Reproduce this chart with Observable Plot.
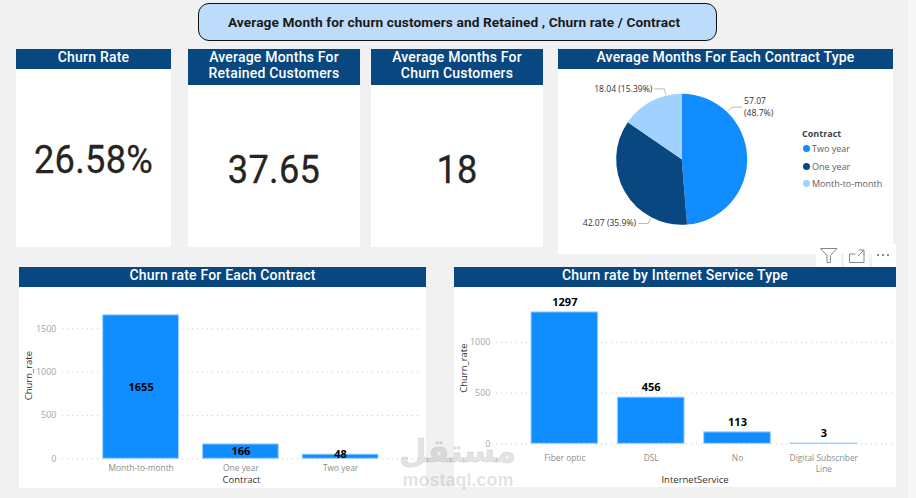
<!DOCTYPE html>
<html><head><meta charset="utf-8">
<script src="https://cdn.jsdelivr.net/npm/d3@7"></script>
<script src="https://cdn.jsdelivr.net/npm/@observablehq/plot@0.6"></script>
<style>
html,body{margin:0;padding:0;background:#f1f1f1;width:916px;height:498px;overflow:hidden;font-family:Roboto,sans-serif}
.card{position:absolute;background:#fff}
.hdr{position:absolute;left:0;right:0;top:0;background:#094780;color:#fff;text-align:center;font:500 14px/16px Roboto,sans-serif;letter-spacing:.2px}
.kpi{position:absolute;left:0;right:0;text-align:center;color:#252423;font:400 38.5px/40px Roboto,sans-serif;letter-spacing:.3px;transform:scaleX(.94);-webkit-text-stroke:.3px #252423}
svg text{font-family:"Open Sans",sans-serif}
</style></head><body>
<div id="root"></div>
<script>
const pageTitle = "Average Month for churn customers and Retained , Churn rate / Contract";
const kpiTitles = [["Churn Rate"],["Average Months For","Retained Customers"],["Average Months For","Churn Customers"]];
const kpiValues = ["26.58%","37.65","18"];
const pieTitle = "Average Months For Each Contract Type";
const contractTypes = ["Two year","One year","Month-to-month"];
const avgMonths = [57.07,42.07,18.04];
const avgShares = ["48.7%","35.9%","15.39%"];
const pieColors = ["#118DFF","#094780","#A0D1FF"];
const contractNames = ["Month-to-month","One year","Two year"];
const contractChurn = [1655,166,48];
const serviceNames = ["Fiber optic","DSL","No","Digital Subscriber Line"];
const serviceChurn = [1297,456,113,3];

const root = document.getElementById("root");
function el(tag, cls, css, text, parent=root){const e=document.createElement(tag); if(cls)e.className=cls; if(css)e.style.cssText=css; if(text!=null)e.textContent=text; parent.appendChild(e); return e;}
function card(x,y,w,h,hh,lines){
  const c=el("div","card",`left:${x}px;top:${y}px;width:${w}px;height:${h}px`);
  const t=el("div","hdr",`height:${hh}px;box-sizing:border-box`,null,c);
  lines.forEach(l=>el("div",null,"",l,t));
  return c;
}
// lighter strip at the right edge of the screenshot
el("div",null,"position:absolute;left:908px;top:0;width:8px;height:498px;background:#f7f7f7");
// banner
el("div",null,"position:absolute;left:198px;top:3px;width:510px;padding-right:7px;height:36px;background:#BDDCFB;border:1.5px solid #111;border-radius:11px;text-align:center;color:#1a1a1a;font:700 13.7px/36px Roboto,sans-serif;letter-spacing:.1px",pageTitle);

// KPI cards
const kpiBoxes=[[16,155,20,91],[188,172,36,101],[371,172,36,101]];
kpiBoxes.forEach((b,i)=>{const c=card(b[0],49,b[1],198,b[2],kpiTitles[i]); el("div","kpi",`top:${b[3]}px`,kpiValues[i],c);});

// Pie card
const pc=card(558,49,335,205,20,[pieTitle]);
const pieData=contractTypes.map((c,i)=>({contract:c,months:avgMonths[i],share:avgShares[i]}));
const colorOpt={domain:contractTypes,range:pieColors};
// label placement relative to the slice: leader angle (deg clockwise from top) and text side
const labelSpots={"Two year":{ang:44,side:1,two:true},"One year":{ang:207.6,side:-1},"Month-to-month":{ang:-13.8,side:-1}};
const pie=Plot.plot({width:335,height:185,margin:0,x:{axis:null},y:{axis:null},color:colorOpt,
 style:{background:"transparent",overflow:"visible"},
 marks:[Plot.dot(pieData,{x:()=>0,y:()=>0,fill:"contract",r:"months",
  render(index,scales,values,dims){
    const NS="http://www.w3.org/2000/svg", g=document.createElementNS(NS,"g");
    const cx=123.7,cy=90.3,R=65.5;
    const arcs=d3.pie().sort(null).value(d=>d.months)(pieData);
    const arc=d3.arc().innerRadius(0).outerRadius(R);
    arcs.forEach((a,i)=>{
      const p=document.createElementNS(NS,"path");
      p.setAttribute("d",arc(a));p.setAttribute("fill",scales.color(a.data.contract));
      p.setAttribute("transform",`translate(${cx},${cy})`);g.appendChild(p);
      const s=labelSpots[a.data.contract],th=s.ang*Math.PI/180;
      const ex=cx+Math.sin(th)*(R+1),ey=cy-Math.cos(th)*(R+1);
      const ox=cx+Math.sin(th)*(R+7),oy=cy-Math.cos(th)*(R+7);
      const lx=ox+s.side*10;
      const l=document.createElementNS(NS,"path");
      l.setAttribute("d",`M${ex},${ey}L${ox},${oy}L${lx},${oy}`);l.setAttribute("fill","none");l.setAttribute("stroke","#bbb");g.appendChild(l);
      const lines=s.two?[String(a.data.months),`(${a.data.share})`]:[`${a.data.months} (${a.data.share})`];
      lines.forEach((t,k)=>{const tx=document.createElementNS(NS,"text");tx.textContent=t;
        tx.setAttribute("x",lx+s.side*2);tx.setAttribute("y",oy+(s.two?k*12-6:0));tx.setAttribute("dy","0.32em");
        tx.setAttribute("text-anchor",s.side>0?"start":"end");tx.setAttribute("font-size","8.6");tx.setAttribute("fill","#333");g.appendChild(tx);});
    });
    return g;
  }})]});
pie.style.position="absolute";pie.style.left="0";pie.style.top="20px";pc.appendChild(pie);
// pie legend
const lg=el("div",null,"position:absolute;left:244px;top:79px;font:9px/12px 'Open Sans',sans-serif;color:#605e5c",null,pc);
el("div",null,"position:absolute;left:0;top:0;font-weight:700;color:#444","Contract",lg);
contractTypes.forEach((c,i)=>{
  const r=el("div",null,`position:absolute;left:1px;top:${[15,33,50][i]}px;white-space:nowrap`,null,lg);
  el("span",null,`display:inline-block;width:7px;height:7px;border-radius:50%;margin-right:2px;background:${pieColors[i]}`,null,r);
  r.appendChild(document.createTextNode(c));
});

// toolbar
const tb=el("div",null,"position:absolute;left:816px;top:244px;width:80px;height:23px");
tb.innerHTML=`<svg width="80" height="23" style="display:block">
<rect x="0" y="0" width="25" height="23" fill="#fff"/><rect x="28" y="0" width="25" height="23" fill="#fff"/><rect x="56" y="0" width="24" height="23" fill="#fff"/>
<path d="M4.5 4.5H21L14.5 11.5V18.5H11V11.5Z" fill="none" stroke="#888"/>
<path d="M33.5 10V18.5H48V10M33.5 10H39.5M42.5 6H48V11M48 6L42 12" fill="none" stroke="#888"/>
<circle cx="62" cy="11" r="1" fill="#666"/><circle cx="67" cy="11" r="1" fill="#666"/><circle cx="72" cy="11" r="1" fill="#666"/></svg>`;

function barChart({parent,w,h,ml,mr,mt,mb,yMax,xr,names,vals,ticks,ylab,xlab,yOff,xOff,tickPad,pad,textY,dy,fmt}){
  const data=names.map((n,i)=>({n,v:vals[i]}));
  const p=Plot.plot({width:w,height:h,marginLeft:ml,marginRight:mr,marginTop:mt,marginBottom:mb,
    style:{background:"transparent",fontSize:"9px"},
    x:{domain:names,range:xr,paddingInner:pad,paddingOuter:0,round:false,label:null},
    y:{domain:[0,yMax],label:null},
    marks:[
      Plot.gridY(ticks,{stroke:"#c4c4c4",strokeOpacity:1,strokeDasharray:"1 4"}),
      Plot.axisY(ticks,{tickSize:0,tickPadding:6,color:"#a6a6a6",label:null,tickFormat:"d",fontSize:9}),
      Plot.axisY([],{label:ylab,labelAnchor:"center",labelOffset:yOff,labelArrow:false,color:"#333",tickSize:0,fontSize:9.5}),
      Plot.barY(data,{x:"n",y:"v",fill:"#118DFF",stroke:"#A0D1FF",strokeWidth:1}),
      Plot.axisX({tickSize:0,tickPadding:tickPad,color:"#8c8c8c",label:null,tickFormat:fmt,lineHeight:1.33,fontSize:8.4}),
      Plot.axisX([],{label:xlab,labelAnchor:"center",labelArrow:false,labelOffset:xOff,color:"#333",tickSize:0,fontSize:9.5}),
      Plot.text(data,{x:"n",y:textY,dy,text:d=>String(d.v),fill:"#000",fontWeight:700,fontSize:11})
    ]});
  p.style.position="absolute";p.style.left="0";p.style.top="20px";parent.appendChild(p);
}
const lc=card(19,267,407,221,20,["Churn rate For Each Contract"]);
barChart({parent:lc,w:407,h:201,ml:43,mr:6,mt:5,mb:29.7,yMax:1918,xr:[83.7,359],names:contractNames,vals:contractChurn,ticks:[0,500,1000,1500],ylab:"Churn_rate",xlab:"Contract",yOff:37,xOff:24,tickPad:4,pad:.24,textY:d=>Math.max(d.v/2,50),dy:0,fmt:d=>d});
const rc=card(454,267,442,220,20,["Churn rate by Internet Service Type"]);
barChart({parent:rc,w:442,h:200,ml:42,mr:3,mt:5,mb:43.7,yMax:1493.6,xr:[77,402.7],names:serviceNames,vals:serviceChurn,ticks:[0,500,1000],ylab:"Churn_rate",xlab:"InternetService",yOff:36,xOff:39,tickPad:9,pad:.227,textY:d=>d.v,dy:-10,fmt:d=>d.replace("Subscriber ","Subscriber\n")});

// watermark
el("div",null,"position:absolute;left:400px;top:432px;width:116px;text-align:center;font:700 32px/38px 'DejaVu Sans',sans-serif;color:rgba(110,110,110,.2);-webkit-text-stroke:1px rgba(110,110,110,.12);direction:rtl","مستقل");
el("div",null,"position:absolute;left:400px;top:469px;width:116px;text-align:center;font:700 18px/22px 'Liberation Sans',sans-serif;color:rgba(110,110,110,.2)","mostaql.com");
</script></body></html>
